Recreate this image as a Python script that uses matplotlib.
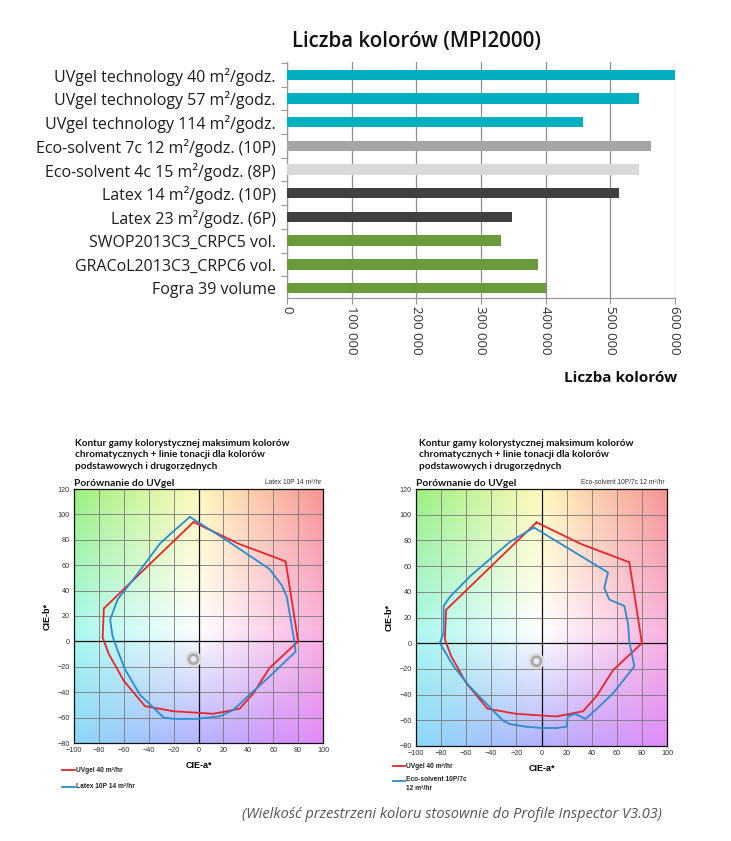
import numpy as np
import matplotlib
matplotlib.use('Agg')
import matplotlib.pyplot as plt
from matplotlib.colors import to_rgb
from matplotlib.lines import Line2D

# ---------------- data ----------------
categories = [
    "UVgel technology 40 m²/godz.",
    "UVgel technology 57 m²/godz.",
    "UVgel technology 114 m²/godz.",
    "Eco-solvent 7c 12 m²/godz. (10P)",
    "Eco-solvent 4c 15 m²/godz. (8P)",
    "Latex 14 m²/godz. (10P)",
    "Latex 23 m²/godz. (6P)",
    "SWOP2013C3_CRPC5 vol.",
    "GRACoL2013C3_CRPC6 vol.",
    "Fogra 39 volume",
]
values = [600000, 544000, 457000, 563000, 545000, 514000, 348000, 331000, 388000, 401000]
bar_colors = ["#00b0c0", "#00b0c0", "#00b0c0", "#a6a6a6", "#d9d9d9",
              "#404040", "#404040", "#6a9a3c", "#6a9a3c", "#6a9a3c"]
x_ticks = [0, 100000, 200000, 300000, 400000, 500000, 600000]

uvgel_a = [-4, 32, 70, 80, 57, 44, 33, 12, -20, -43, -60, -72, -77, -76, -4]
uvgel_b = [94, 77, 63, 0, -21, -41, -53, -57, -55, -51, -31, -10, 3, 26, 94]

latex_a = [-7, 22, 57, 67, 71, 77, 78, 60, 41, 28, 17, -2, -20, -28, -47, -59, -65, -69, -71, -65, -53, -31, -22, -7]
latex_b = [98, 80, 57, 44, 35, 0, -8, -25, -42, -54, -59, -61, -61, -60, -42, -22, -7, 4, 17, 33, 48, 77, 85, 98]

eco_a = [-6, 53, 50, 54, 66, 69, 70, 74, 57, 43, 35, 27, 21, 20, 12, 0, -12, -25, -31, -41, -57, -70, -81, -78, -78, -78, -78, -73, -57, -25, -6]
eco_b = [90, 55, 43, 34, 29, 15, 1, -18, -39, -52, -59, -55, -57, -65, -66, -66, -65, -63, -60, -50, -34, -18, 0, 8, 13, 23, 29, 36, 52, 79, 90]

# ---------------- figure ----------------
W, H = 731, 841
fig = plt.figure(figsize=(W / 100, H / 100), dpi=100)
fig.patch.set_facecolor("white")

def fx(px):
    return px / W

def fy(py):
    return 1 - py / H

base_font = "Open Sans"

# ---------- bar chart ----------
ax = fig.add_axes([fx(287), fy(298), fx(675) - fx(287), fy(62) - fy(298)])
ypos = np.arange(len(categories))
ax.barh(ypos, values, height=0.44, color=bar_colors, zorder=3)
ax.set_xlim(0, 600000)
ax.set_ylim(9.42, -0.54)
ax.set_xticks(x_ticks)
ax.set_xticklabels([f"{v:,}".replace(",", " ") for v in x_ticks], rotation=-90,
                   fontsize=9.5, color="#333333", family=base_font, va="top")
ax.set_yticks(ypos)
ax.set_yticklabels(categories, fontsize=11.5, color="#1e1e1e", family=base_font)
ax.tick_params(axis="y", length=0, pad=8)
ax.set_yticks(np.arange(-0.5, 9.5, 1.0), minor=True)
ax.tick_params(axis="y", which="minor", length=4, color="#999999", width=0.8)
ax.tick_params(axis="x", length=4, color="#999999", width=0.8, pad=2)
ax.grid(axis="x", color="#8f8f8f", linewidth=0.9, zorder=0)
ax.set_axisbelow(True)
for s in ["top", "right"]:
    ax.spines[s].set_visible(False)
for s in ["left", "bottom"]:
    ax.spines[s].set_color("#999999")
    ax.spines[s].set_linewidth(0.9)

fig.text(fx(416), fy(42), "Liczba kolorów (MPI2000)", ha="center", va="center",
         fontsize=14.8, fontweight=600, family=base_font, color="#111111")
fig.text(fx(677), fy(378), "Liczba kolorów", ha="right", va="center",
         fontsize=11, fontweight="bold", family=base_font, color="#111111")

# ---------- gamut charts ----------
grad_cols = [["#9cf07e", "#fff9bc", "#f79494"],
             ["#aaf8ee", "#ffffff", "#f8b2de"],
             ["#8cd8f8", "#b4b2ff", "#e28af8"]]

def gradient(n=240):
    A = np.linspace(-100, 100, n)
    B = np.linspace(120, -80, n)
    ca = [-100, 0, 100]
    cb = [-80, 10, 120]
    g = np.array([[to_rgb(c) for c in row] for row in grad_cols])
    rows = np.zeros((3, n, 3))
    for i in range(3):
        for k in range(3):
            rows[i, :, k] = np.interp(A, ca, g[i, :, k])
    img = np.zeros((n, n, 3))
    for i in range(n):
        for k in range(3):
            img[:, i, k] = np.interp(B, cb, rows[::-1, i, k])
    return img

img = gradient()
small = "Liberation Sans"
tfont = "Lato"

def gamut(rect, other_a, other_b, other_name, corner_txt, title_x, leg):
    a = fig.add_axes(rect)
    a.imshow(img, extent=(-100, 100, -80, 120), aspect="auto", origin="upper", zorder=0)
    a.set_xlim(-100, 100)
    a.set_ylim(-80, 120)
    a.set_xticks(np.arange(-100, 101, 20))
    a.set_yticks(np.arange(-80, 121, 20))
    a.grid(color="#7a7a7a", linewidth=0.6, zorder=1)
    a.axhline(0, color="#111111", linewidth=0.9, zorder=2)
    a.axvline(0, color="#111111", linewidth=0.9, zorder=2)
    a.tick_params(length=0, labelsize=5.2, labelcolor="#333333", pad=3)
    for lab in a.get_xticklabels() + a.get_yticklabels():
        lab.set_family(small)
    for s in a.spines.values():
        s.set_color("#111111")
        s.set_linewidth(0.9)
    a.scatter([-4], [-14], s=60, facecolors="none", edgecolors="#dcdcdc", linewidths=4, zorder=3)
    a.scatter([-4], [-14], s=42, facecolors="none", edgecolors="#a8a8a8", linewidths=1.8, zorder=3)
    a.plot(uvgel_a, uvgel_b, color="#e8252a", linewidth=1.3, zorder=4)
    a.plot(other_a, other_b, color="#2b8bd0", linewidth=1.3, zorder=5)
    a.set_xlabel("CIE-a*", fontsize=6.5, fontweight="bold", family=small, labelpad=5)
    a.set_ylabel("CIE-b*", fontsize=6.5, fontweight="bold", family=small, labelpad=4)
    x0 = rect[0]
    x1 = rect[0] + rect[2]
    fig.text(title_x, fy(439),
             "Kontur gamy kolorystycznej maksimum kolorów\nchromatycznych + linie tonacji dla kolorów\npodstawowych i drugorzędnych",
             ha="left", va="top", fontsize=7.2, fontweight="bold", family=tfont,
             color="#111111", linespacing=1.35)
    fig.text(x0, fy(483), "Porównanie do UVgel", ha="left", va="center",
             fontsize=7.4, fontweight="bold", family=tfont, color="#111111")
    fig.text(x1 - fx(2), fy(483), corner_txt, ha="right", va="center",
             fontsize=4.8, family=small, color="#333333")
    lx0, lx1, ly_r, ly_b = leg
    fig.add_artist(Line2D([fx(lx0), fx(lx1)], [fy(ly_r), fy(ly_r)], color="#e8252a",
                          linewidth=1.3, transform=fig.transFigure))
    fig.add_artist(Line2D([fx(lx0), fx(lx1)], [fy(ly_b), fy(ly_b)], color="#2b8bd0",
                          linewidth=1.3, transform=fig.transFigure))
    fig.text(fx(lx1 + 1), fy(ly_r), "UVgel 40 m²/hr", ha="left", va="center",
             fontsize=4.8, fontweight="bold", family=small, color="#222222")
    multi = "\n" in other_name
    fig.text(fx(lx1 + 1), fy(ly_b - 5) if multi else fy(ly_b), other_name, ha="left",
             va="top" if multi else "center",
             fontsize=4.8, fontweight="bold", family=small, color="#222222",
             linespacing=1.3)
    return a

gamut([fx(74), fy(743), fx(323) - fx(74), fy(489) - fy(743)],
      latex_a, latex_b, "Latex 10P 14 m²/hr", "Latex 10P 14 m²/hr", fx(75),
      (62, 75, 770, 787))
gamut([fx(416), fy(746), fx(667) - fx(416), fy(489) - fy(746)],
      eco_a, eco_b, "Eco-solvent 10P/7c\n12 m²/hr", "Eco-solvent 10P/7c 12 m²/hr", fx(419),
      (393, 405, 766, 781))

fig.text(fx(452), fy(815), "(Wielkość przestrzeni koloru stosownie do Profile Inspector V3.03)",
         ha="center", va="center", fontsize=10.5, style="italic", family=base_font, color="#555555")

fig.savefig("out.png", dpi=100, facecolor="white")
